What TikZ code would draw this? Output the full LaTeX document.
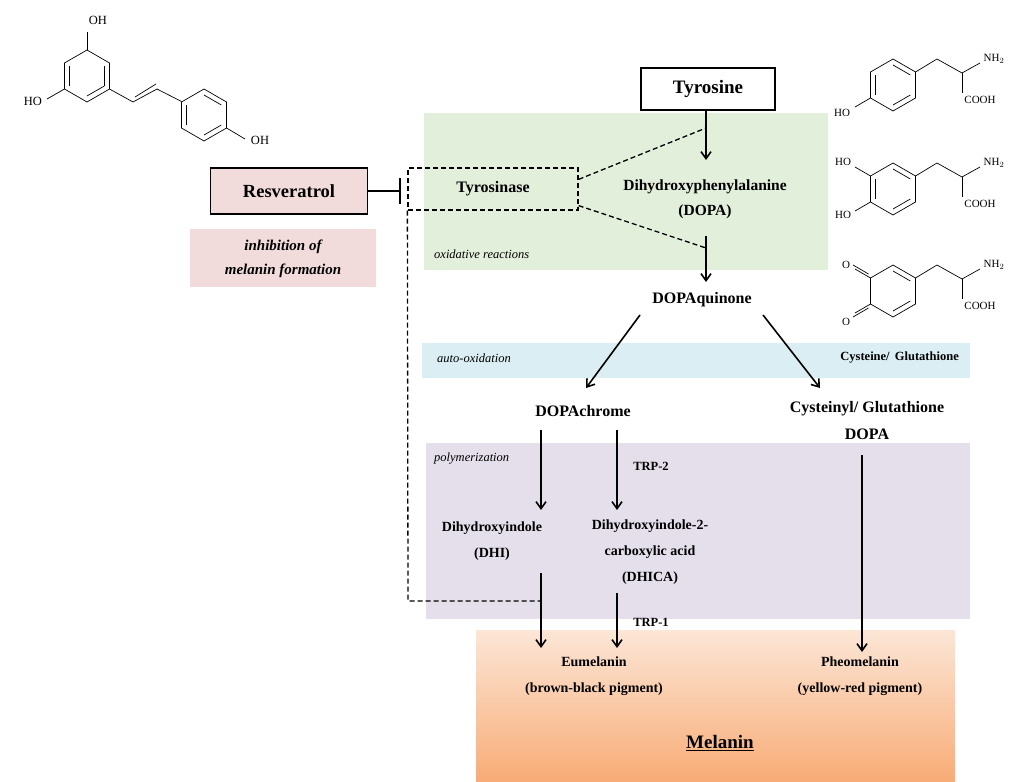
\documentclass[tikz,border=0pt]{standalone}
\usepackage{fontspec}
\setmainfont{Liberation Serif}
\usetikzlibrary{arrows.meta,shadings}
\definecolor{gr}{RGB}{226,239,218}
\definecolor{bl}{RGB}{218,238,243}
\definecolor{pu}{RGB}{229,223,236}
\definecolor{pk}{RGB}{242,220,219}
\definecolor{orT}{RGB}{252,230,214}
\definecolor{orB}{RGB}{248,172,118}
\tikzset{
 t/.style={font=\fontsize{16}{19}\selectfont\bfseries,align=center,inner sep=1pt},
 s/.style={font=\fontsize{14}{26}\selectfont\bfseries,align=center,inner sep=1pt},
 it/.style={font=\fontsize{12.5}{14}\selectfont\itshape,inner sep=1pt},
 ar/.style={line width=1.6pt,-{Straight Barb[length=7pt,width=10pt]}},
 dsh/.style={line width=1.3pt,dash pattern=on 5pt off 3pt},
 bond/.style={line width=0.7pt},
 ch/.style={font=\fontsize{12.5}{14}\selectfont,inner sep=0.5pt},
}
\newcommand{\hexring}[3]{% center x, y, r
 \draw[bond] (#1+0,#2-#3) -- (#1+0.866*#3,#2-0.5*#3) -- (#1+0.866*#3,#2+0.5*#3) -- (#1,#2+#3) -- (#1-0.866*#3,#2+0.5*#3) -- (#1-0.866*#3,#2-0.5*#3) -- cycle;}
\begin{document}
\begin{tikzpicture}[x=1pt,y=-1pt]
\useasboundingbox (0,0) rectangle (1024,781);
\fill[gr] (424,113) rectangle (828,270);
\fill[bl] (422,343) rectangle (970,378);
\fill[pu] (426,443) rectangle (970,619);
\shade[top color=orT,bottom color=orB] (476,630) rectangle (955,781);
\fill[pk] (190,229) rectangle (376,287);
% resveratrol structure
\hexring{87}{76}{26}
\draw[bond] (87+0.866*20,76-0.5*20) -- (87+0.866*20,76+0.5*20);
\draw[bond] (87-0.866*20,76-0.5*20) -- (87-0.866*20,76+0.5*20);
\draw[bond] (87,76+20) -- (87+0.866*20,76+0.5*20);
\draw[bond] (87,50) -- (87,32);
\node[ch] (oh1) at (98,20) {OH};
\draw[bond] (64.5,89) -- (47,99);
\node[ch] (oh2) at (33,101) {HO};
\draw[bond] (109.5,89) -- (133,102) -- (157,89) -- (181.5,101.5);
\draw[bond] (135,97) -- (156,84);
\hexring{204}{115}{26}
\draw[bond] (204-0.866*20,115-0.5*20) -- (204-0.866*20,115+0.5*20);
\draw[bond] (204,115-20) -- (204+0.866*20,115-0.5*20);
\draw[bond] (204,115+20) -- (204+0.866*20,115+0.5*20);
\draw[bond] (226.5,128) -- (245,139);
\node[ch] (oh3) at (260,140) {OH};
% right structures
\foreach \cy/\k in {85/1,189/2,291/3}{
 \hexring{893}{\cy}{26}
 \draw[bond] (915.5,\cy-13) -- (937,\cy-26) -- (962,\cy-12) -- (980,\cy-22);
 \draw[bond] (962,\cy-12) -- (962,\cy+8);
}
\node[ch,font=\fontsize{11}{13}\selectfont] (nh1) at (994,59) {NH$_2$};
\node[ch,font=\fontsize{11}{13}\selectfont] (co1) at (980,100) {COOH};
\node[ch,font=\fontsize{11}{13}\selectfont] (nh2) at (994,163) {NH$_2$};
\node[ch,font=\fontsize{11}{13}\selectfont] (co2) at (980,204) {COOH};
\node[ch,font=\fontsize{11}{13}\selectfont] (nh3) at (994,265) {NH$_2$};
\node[ch,font=\fontsize{11}{13}\selectfont] (co3) at (980,306) {COOH};
% tyrosine ring doubles
\draw[bond] (893-0.866*20,85-0.5*20) -- (893-0.866*20,85+0.5*20);
\draw[bond] (893,65) -- (893+0.866*20,75);
\draw[bond] (893,105) -- (893+0.866*20,95);
\draw[bond] (870.5,98) -- (855,107);
\node[ch,font=\fontsize{11}{13}\selectfont] (ho1) at (842,113) {HO};
% dopa
\draw[bond] (893-0.866*20,189-0.5*20) -- (893-0.866*20,189+0.5*20);
\draw[bond] (893,169) -- (893+0.866*20,179);
\draw[bond] (893,209) -- (893+0.866*20,199);
\draw[bond] (870.5,176) -- (855,167);
\draw[bond] (870.5,202) -- (855,211);
\node[ch,font=\fontsize{11}{13}\selectfont] (ho2) at (843,162) {HO};
\node[ch,font=\fontsize{11}{13}\selectfont] (ho3) at (843,215) {HO};
% dopaquinone
\draw[bond] (893,271) -- (893+0.866*20,281);
\draw[bond] (893,311) -- (893+0.866*20,301);
\draw[bond] (870.5,278) -- (855,269);
\draw[bond] (868.5,274) -- (853,265);
\draw[bond] (870.5,304) -- (855,313);
\draw[bond] (868.5,308) -- (853,317);
\node[ch,font=\fontsize{11}{13}\selectfont] (o1) at (846,265) {O};
\node[ch,font=\fontsize{11}{13}\selectfont] (o2) at (846,322) {O};
% boxes
\node[t,draw,line width=1.6pt,minimum width=134pt,minimum height=42pt,font=\fontsize{19}{22}\selectfont\bfseries] (tyr) at (708,89) {Tyrosine};
\node[t,draw,fill=pk,line width=1.3pt,minimum width=157pt,minimum height=46pt,font=\fontsize{18.5}{22}\selectfont\bfseries] (res) at (289,191) {Resveratrol};
\node[t,dsh,draw,minimum width=170pt,minimum height=42pt] (tys) at (493,189) {Tyrosinase};
\node[font=\fontsize{15}{24}\selectfont\bfseries\itshape,align=center] (inh) at (283,259) {inhibition of\\melanin formation};
\node[t,font=\fontsize{15.5}{25}\selectfont\bfseries] (dopa) at (705,199) {Dihydroxyphenylalanine\\(DOPA)};
\node[t] (dq) at (702,300) {DOPAquinone};
\node[t] (dc) at (583,411) {DOPAchrome};
\node[t,font=\fontsize{16}{27}\selectfont\bfseries] (cg) at (867,421) {Cysteinyl/ Glutathione\\DOPA};
\node[s] (dhi) at (492,541) {Dihydroxyindole\\(DHI)};
\node[s] (dhica) at (650,552) {Dihydroxyindole-2-\\carboxylic acid\\(DHICA)};
\node[s] (eu) at (594,676) {Eumelanin\\(brown-black pigment)};
\node[s] (ph) at (860,676) {Pheomelanin\\(yellow-red pigment)};
\node[font=\fontsize{19}{22}\selectfont\bfseries] (mel) at (720,743) {\underline{Melanin}};
\node[s,font=\fontsize{12.5}{14}\selectfont\bfseries] (trp2) at (651,466) {TRP-2};
\node[s,font=\fontsize{12.5}{14}\selectfont\bfseries] (trp1) at (651,622) {TRP-1};
\node[it,anchor=west] (ox) at (433,254) {oxidative reactions};
\node[it,anchor=west] (ao) at (436,358) {auto-oxidation};
\node[s,font=\fontsize{12.5}{14}\selectfont\bfseries,anchor=east] (cy) at (960,358) {Cysteine/ \,Glutathione};
\node[it,anchor=west] (po) at (433,459) {polymerization};
% connectors
\draw[line width=1.3pt] (res.east) -- (400,191) coordinate (bar);
\draw[line width=1.6pt] (400,178) -- (400,204);
\coordinate (c1) at (706,128);
\coordinate (c2) at (706,248);
\draw[dsh] (tys.north east) ++(0,12) -- (c1);
\draw[dsh] (tys.south east) ++(0,-5) -- (c2);
\coordinate (dcorner) at (408,601);
\coordinate (dend) at (541,601);
\draw[dsh] (tys.south west) -- (dcorner) -- (dend);
\draw[ar] (706,110) -- (706,160);
\draw[ar] (706,236) -- (706,282);
\draw[ar] (640,315) -- (586,388);
\draw[ar] (763,315) -- (820,388);
\draw[ar] (541,430) -- (541,510);
\draw[ar] (617,430) -- (617,510);
\draw[ar] (541,573) -- (541,648);
\draw[ar] (617,593) -- (617,648);
\draw[ar] (862,455) -- (862,652);
\end{tikzpicture}
\end{document}
